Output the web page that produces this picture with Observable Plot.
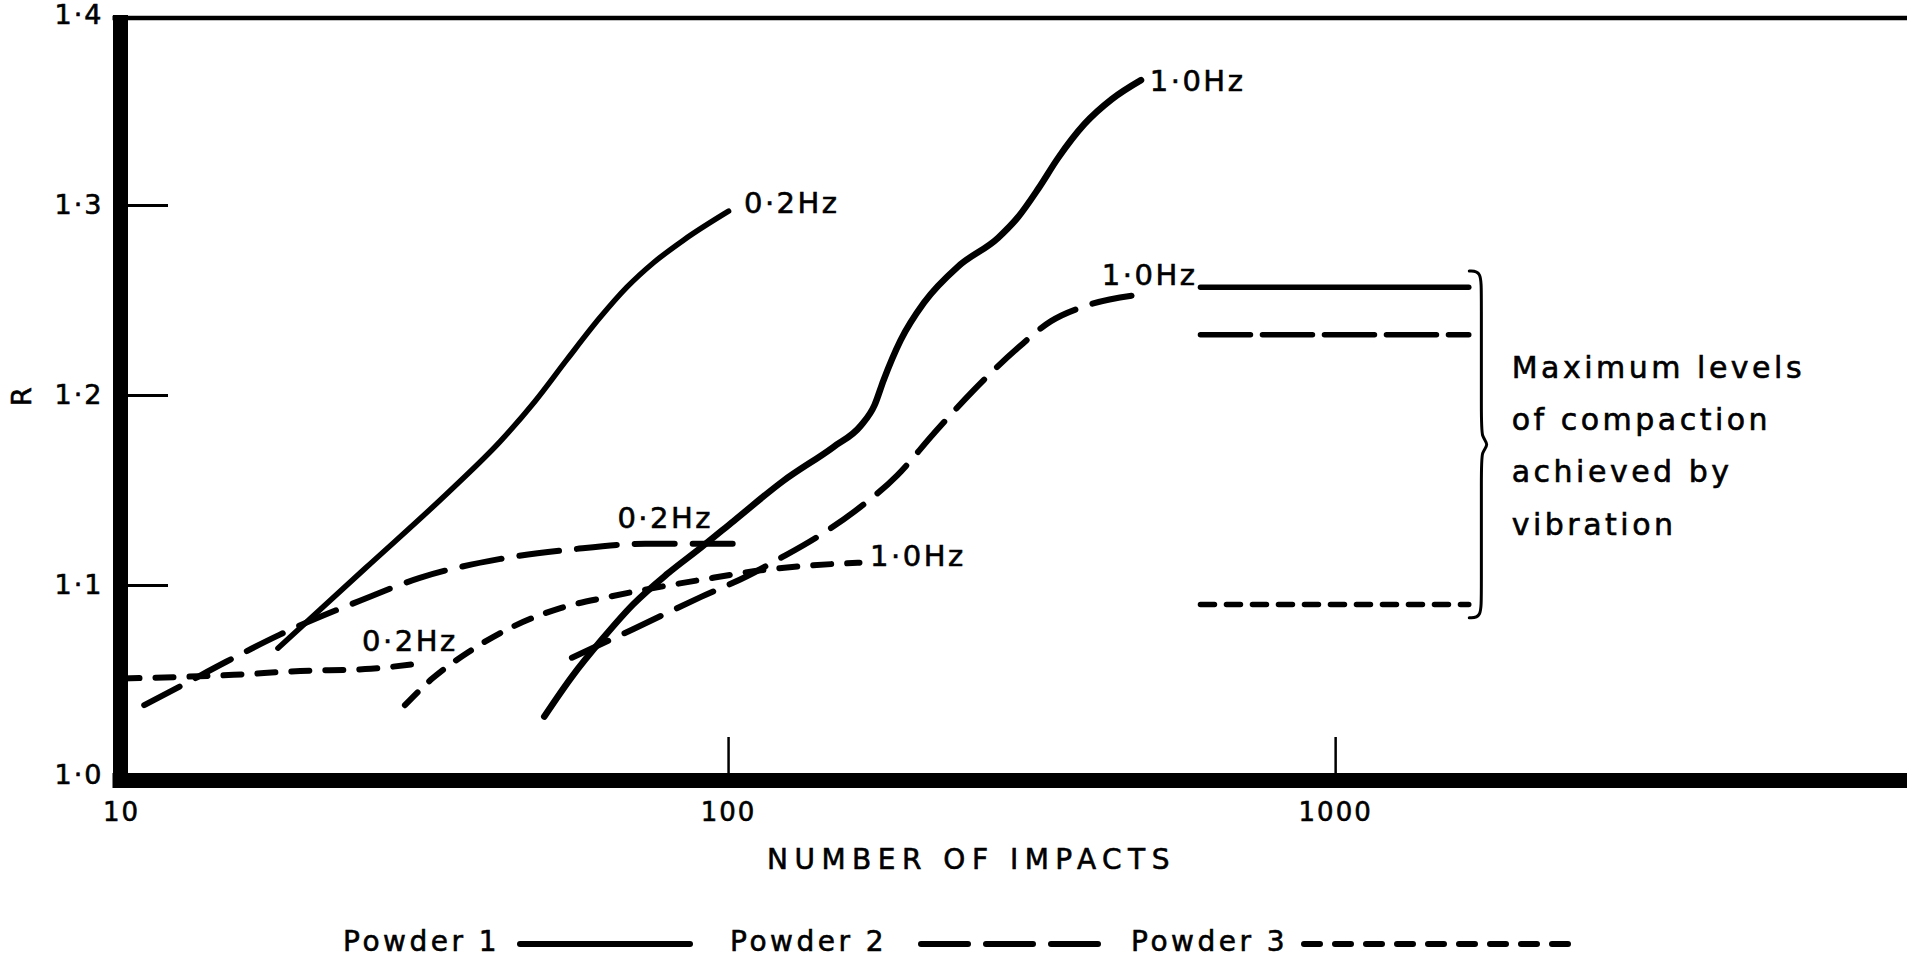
<!DOCTYPE html>
<html><head><meta charset="utf-8">
<script src="https://cdn.jsdelivr.net/npm/d3@7"></script>
<script src="https://cdn.jsdelivr.net/npm/@observablehq/plot@0.6"></script>
<style>
body{margin:0;background:#fff;font-family:"DejaVu Sans",sans-serif;color:#000;}
#legend{position:relative;width:1907px;height:67px;}
#legend .lbl{position:absolute;top:31px;height:32px;line-height:32px;font-size:28px;letter-spacing:3.5px;white-space:pre;-webkit-text-stroke:0.6px #000;}
#legend svg{position:absolute;top:31px;display:block}
</style></head><body>
<div id="chart"></div>
<div id="legend"></div>
<script>
// ---------- data ----------
const powders = ["Powder 1", "Powder 2", "Powder 3"];
const xTicks = [10, 100, 1000];
const yTicks = [1.0, 1.1, 1.2, 1.3, 1.4];
const yTickMarks = [1.1, 1.2, 1.3];
const xTickMarks = [100, 1000];

const p1_02Hz_impacts = [18.1, 25.2, 34.8, 42.1, 48.0, 54.2, 61.4, 68.0, 75.3, 84.5, 100];
const p1_02Hz_R       = [1.067, 1.109, 1.150, 1.176, 1.197, 1.219, 1.241, 1.257, 1.270, 1.282, 1.297];

const p1_10Hz_impacts = [49.7, 55.2, 62.0, 69.6, 79.2, 90.1, 102, 123, 149, 165, 174, 180, 192, 210, 239, 278, 300, 324, 349, 386, 428, 478];
const p1_10Hz_R       = [1.031, 1.052, 1.072, 1.090, 1.106, 1.120, 1.134, 1.155, 1.173, 1.184, 1.195, 1.208, 1.229, 1.249, 1.268, 1.283, 1.294, 1.309, 1.325, 1.343, 1.356, 1.366];

const p2_02Hz_impacts = [10.9, 12.5, 14.9, 18.2, 24.7, 31.0, 42.1, 55.2, 72.9, 104.5];
const p2_02Hz_R       = [1.037, 1.047, 1.060, 1.074, 1.092, 1.104, 1.114, 1.119, 1.122, 1.122];

const p2_10Hz_impacts = [55.2, 69.6, 90.1, 107.4, 121.1, 139.1, 161.3, 189.6, 217.8, 253.7, 299.5, 339.3, 386.2, 473.2];
const p2_10Hz_R       = [1.062, 1.077, 1.094, 1.105, 1.114, 1.125, 1.139, 1.158, 1.180, 1.203, 1.225, 1.239, 1.247, 1.253];

const p3_02Hz_impacts = [10, 15.3, 19.7, 25.2, 31.0];
const p3_02Hz_R       = [1.051, 1.053, 1.055, 1.056, 1.059];

const p3_10Hz_impacts = [29.3, 32.5, 37.3, 43.9, 52.7, 63.4, 76.3, 90.1, 113.0, 129.8, 164.3];
const p3_10Hz_R       = [1.037, 1.051, 1.065, 1.078, 1.088, 1.094, 1.099, 1.103, 1.108, 1.110, 1.112];

// maximum levels of compaction achieved by vibration (one per powder)
const maxLevelR = [1.257, 1.232, 1.090];
const maxLevelImpacts = [600, 1660];

// curve labels
const labelText    = ["0·2Hz", "1·0Hz", "0·2Hz", "1·0Hz", "0·2Hz", "1·0Hz"];
const labelImpacts = [106, 494, 65.6, 412, 24.9, 171];
const labelR       = [1.301, 1.365, 1.135, 1.263, 1.0705, 1.1153];

const noteText = "Maximum levels\nof compaction\nachieved by\nvibration";
const noteImpacts = 1950;
const noteR = 1.1768;

// ---------- build tables ----------
const series = [
  {powder: "Powder 1", freq: "0·2Hz", impacts: p1_02Hz_impacts, R: p1_02Hz_R, w: 5.5},
  {powder: "Powder 1", freq: "1·0Hz", impacts: p1_10Hz_impacts, R: p1_10Hz_R, w: 6.5},
  {powder: "Powder 2", freq: "0·2Hz", impacts: p2_02Hz_impacts, R: p2_02Hz_R, w: 6},
  {powder: "Powder 2", freq: "1·0Hz", impacts: p2_10Hz_impacts, R: p2_10Hz_R, w: 6},
  {powder: "Powder 3", freq: "0·2Hz", impacts: p3_02Hz_impacts, R: p3_02Hz_R, w: 6},
  {powder: "Powder 3", freq: "1·0Hz", impacts: p3_10Hz_impacts, R: p3_10Hz_R, w: 6}
];
const lineStyle = {
  "Powder 1": {strokeDasharray: null, strokeLinecap: "round"},
  "Powder 2": {strokeDasharray: "40,18", strokeLinecap: "round"},
  "Powder 3": {strokeDasharray: "18,16", strokeLinecap: "round"}
};
const labels = labelText.map((t, i) => ({text: t, impacts: labelImpacts[i], R: labelR[i]}));

// brace derived from the max-level values
const bTop = d3.max(maxLevelR) + 0.0085, bBot = d3.min(maxLevelR) - 0.007, bMid = (bTop + bBot) / 2;
const hx = maxLevelImpacts[1], bx = hx * 1.047, tx = hx * 1.079;
const brace = [
  [hx, bTop], [bx, bTop], [bx, bTop - 0.012], [bx, bMid + 0.012], [bx, bMid + 0.004], [tx, bMid],
  [bx, bMid - 0.004], [bx, bMid - 0.012], [bx, bBot + 0.012], [bx, bBot], [hx, bBot]
].map(([impacts, R]) => ({impacts, R}));

// ---------- plot ----------
const W = 1907, H = 895;
const FONT = "DejaVu Sans, sans-serif";
const marks = [];

series.forEach(s => {
  const rows = s.impacts.map((v, i) => ({impacts: v, R: s.R[i]}));
  marks.push(Plot.line(rows, {x: "impacts", y: "R", curve: "monotone-x", stroke: "black",
    strokeWidth: s.w, ...lineStyle[s.powder]}));
});
powders.forEach((p, i) => {
  marks.push(Plot.ruleY([maxLevelR[i]], {x1: maxLevelImpacts[0], x2: maxLevelImpacts[1], stroke: "black",
    strokeWidth: 5.5, strokeDasharray: p === "Powder 2" ? "50,12" : p === "Powder 3" ? "14,12" : null,
    strokeLinecap: "round"}));
});
marks.push(Plot.line(brace, {x: "impacts", y: "R", curve: "basis", stroke: "black", strokeWidth: 3}));

// frame
marks.push(Plot.ruleX([10], {stroke: "black", strokeWidth: 15, dx: -1, insetBottom: -12.5}));
marks.push(Plot.ruleY([1.0], {stroke: "black", strokeWidth: 15, dy: 5, insetLeft: -8.5}));
marks.push(Plot.ruleY([1.4], {stroke: "black", strokeWidth: 4.5, dy: 2.5, insetLeft: -8.5}));
// inward ticks
marks.push(Plot.ruleY(yTickMarks, {x1: 10, x2: 10 * Math.pow(10, 47 / 607), stroke: "black", strokeWidth: 3}));
marks.push(Plot.ruleX(xTickMarks, {y1: 1.0, y2: 1.0 + 38 / 1900, stroke: "black", strokeWidth: 2.5}));

// axes (labels only)
marks.push(Plot.axisY(yTicks, {tickSize: 0, tickPadding: 18, fontSize: 27, fontFamily: FONT,
  tickFormat: d => d.toFixed(1).replace(".", "·"), label: null}));
marks.push(Plot.axisX(xTicks, {tickSize: 0, tickPadding: 27, fontSize: 26, fontFamily: FONT,
  tickFormat: d => String(d), label: null}));

marks.push(Plot.text(["NUMBER OF IMPACTS"], {frameAnchor: "bottom", lineAnchor: "middle", dx: -43, dy: 85,
  fontSize: 28, fontFamily: FONT, fill: "black"}));
marks.push(Plot.text(["R"], {frameAnchor: "left", textAnchor: "middle", lineAnchor: "middle", rotate: -90,
  dx: -99, fontSize: 27, fontFamily: FONT, fill: "black"}));

marks.push(Plot.text(labels, {x: "impacts", y: "R", text: "text", textAnchor: "start", fontSize: 29,
  fontFamily: FONT, fill: "black"}));
marks.push(Plot.text([noteText], {x: noteImpacts, y: noteR, textAnchor: "start", lineAnchor: "middle",
  lineHeight: 1.74, fontSize: 30, fontFamily: FONT, fill: "black"}));

const chart = Plot.plot({
  width: W, height: H,
  marginLeft: 121, marginRight: 0, marginTop: 15, marginBottom: H - 775,
  x: {type: "log", domain: [10, 8750]},
  y: {domain: [1.0, 1.4]},
  style: {background: "white", color: "black", fontFamily: FONT},
  marks
});
document.getElementById("chart").appendChild(chart);
const svg = d3.select(chart);
svg.selectAll("text").style("stroke", "black").style("stroke-width", "0.6px").style("letter-spacing", "2px");
svg.selectAll("text").filter(function(){ return this.textContent === "NUMBER OF IMPACTS"; })
  .style("letter-spacing", "6.5px");
svg.selectAll("text").filter(function(){ return this.textContent.startsWith("Maximum"); })
  .style("letter-spacing", "3.5px");
svg.selectAll("text").filter(function(){ return /Hz$/.test(this.textContent); })
  .style("letter-spacing", "2.5px");

// ---------- legend (below the SVG) ----------
const legendLayout = [
  {powder: "Powder 1", left: 343, x1: 517, x2: 693, dash: null},
  {powder: "Powder 2", left: 730, x1: 918, x2: 1101, dash: "47,18"},
  {powder: "Powder 3", left: 1131, x1: 1301, x2: 1575, dash: "16,15"}
];
const legend = d3.select("#legend");
legendLayout.forEach(d => {
  legend.append("div").attr("class", "lbl").style("left", d.left + "px").text(d.powder);
  const s = legend.append("svg").style("left", d.x1 + "px").attr("width", d.x2 - d.x1).attr("height", 32);
  s.append("line").attr("x1", 3).attr("x2", d.x2 - d.x1 - 3).attr("y1", 18).attr("y2", 18)
    .attr("stroke", "black").attr("stroke-width", 6).attr("stroke-linecap", "round")
    .attr("stroke-dasharray", d.dash);
});
</script></body></html>
